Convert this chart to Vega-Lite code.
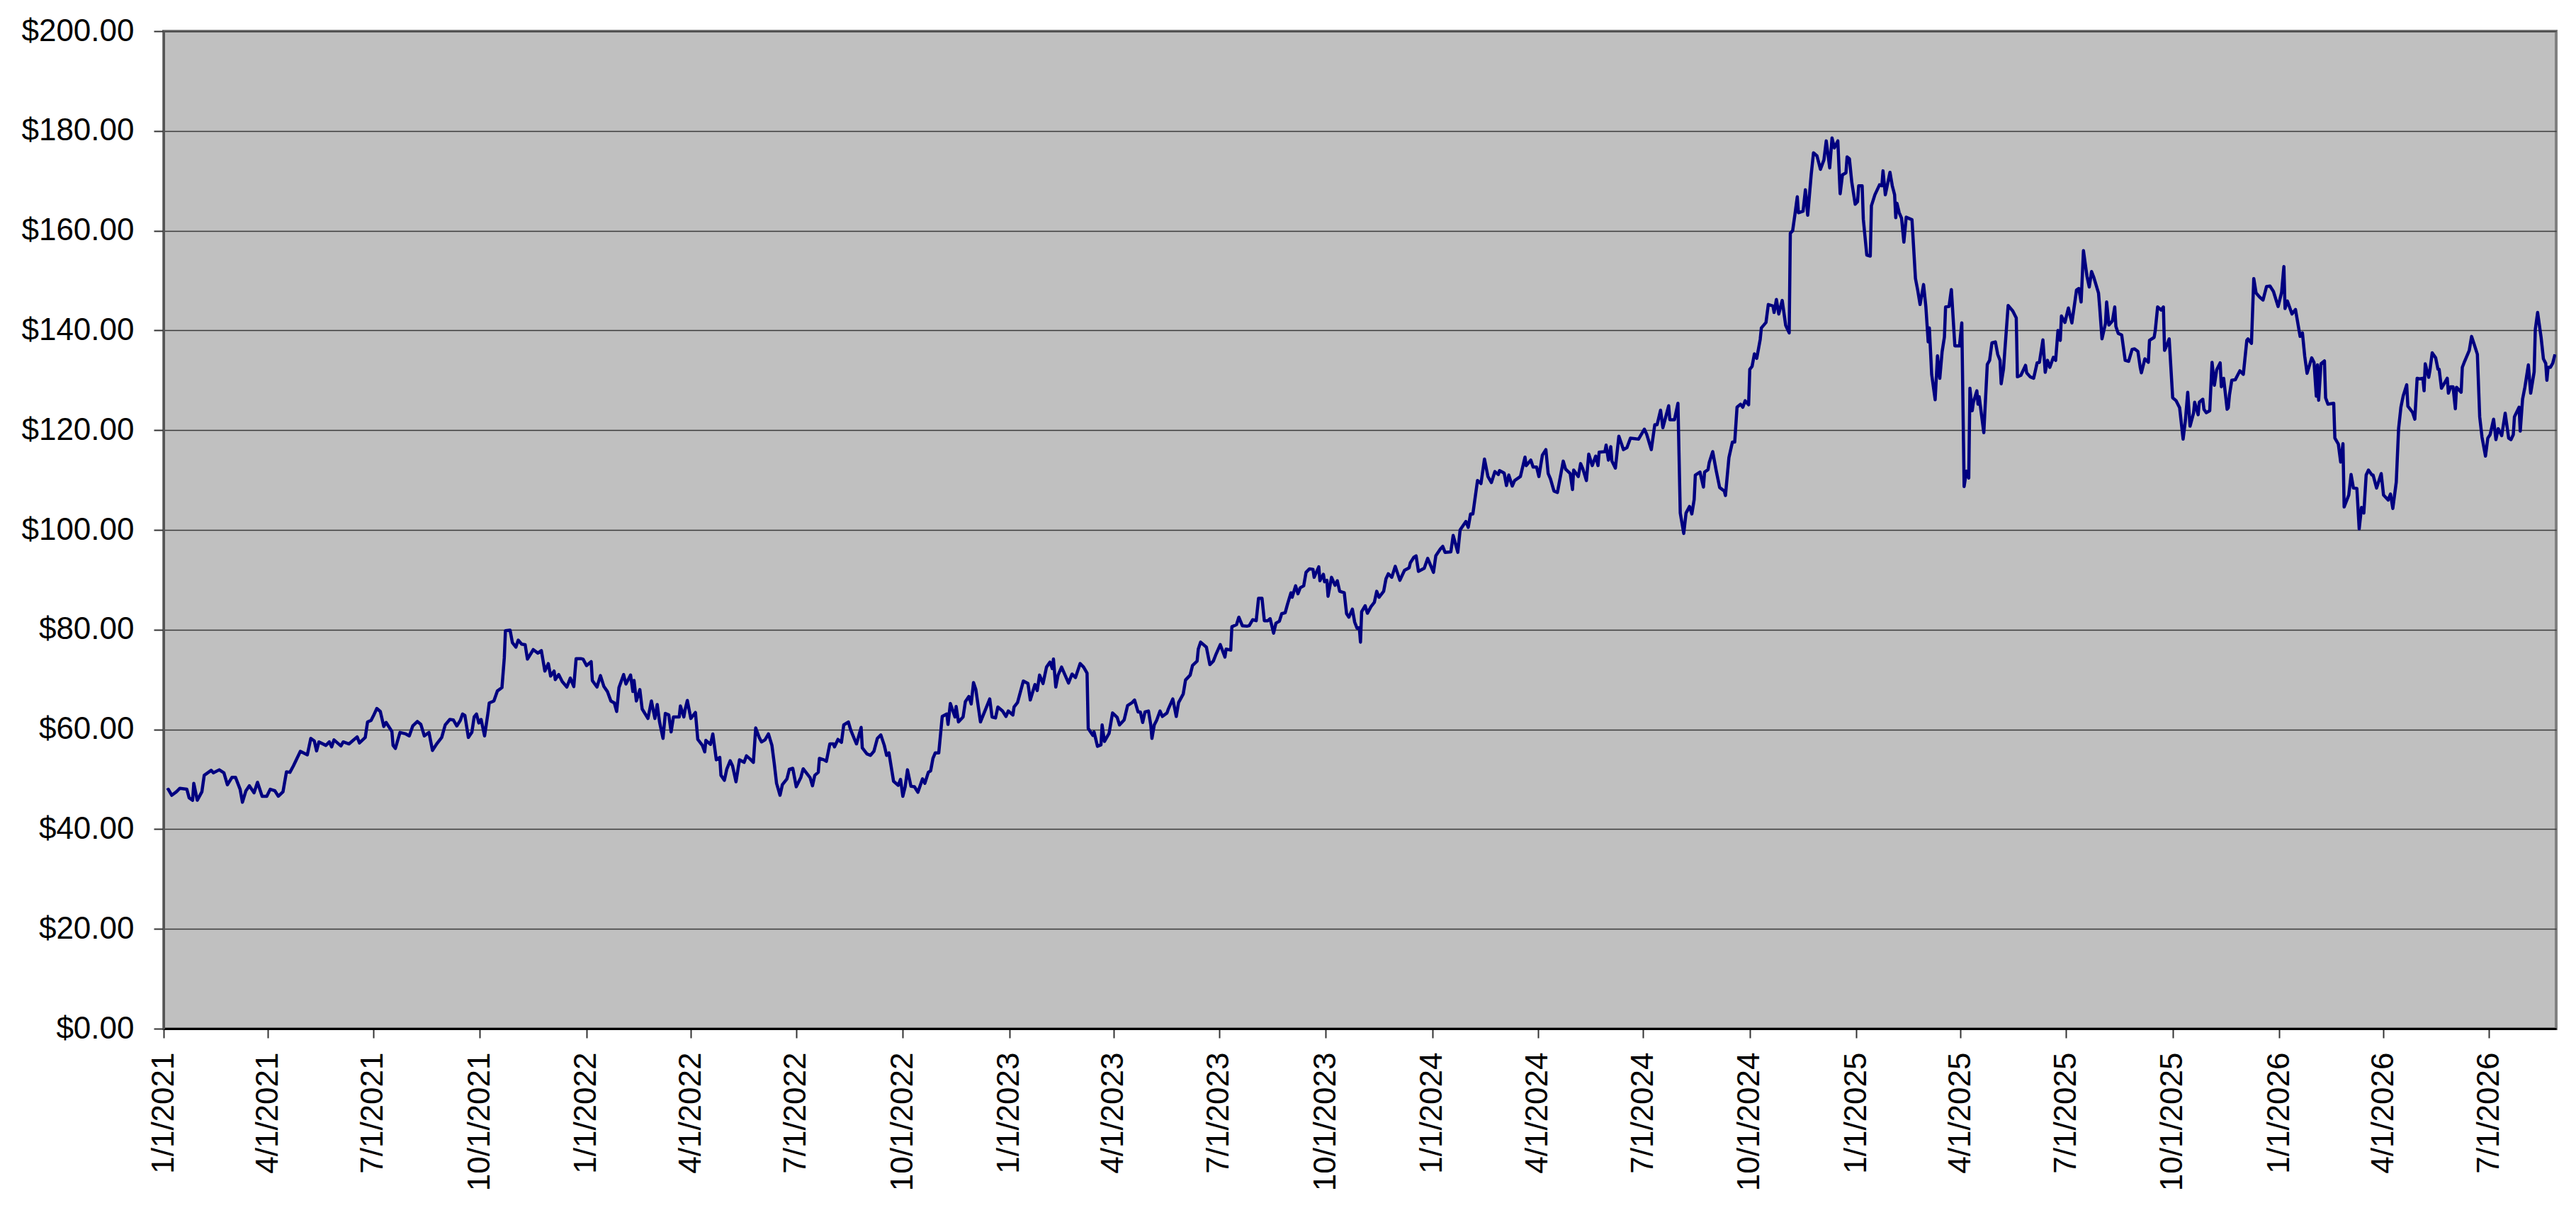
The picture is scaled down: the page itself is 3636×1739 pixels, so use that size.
{
  "$schema": "https://vega.github.io/schema/vega-lite/v6.json",
  "width": 3377,
  "height": 1408,
  "autosize": {"type": "none"},
  "padding": {"left": 231, "top": 44, "right": 28, "bottom": 287},
  "background": "white",
  "data": {
    "values": [
      {"date": "2021-01-04", "price": 47.8}, {"date": "2021-01-05", "price": 48.0}, {"date": "2021-01-08", "price": 46.8},
      {"date": "2021-01-12", "price": 47.5}, {"date": "2021-01-15", "price": 48.2}, {"date": "2021-01-21", "price": 48.0},
      {"date": "2021-01-23", "price": 46.3}, {"date": "2021-01-26", "price": 45.8}, {"date": "2021-01-27", "price": 49.2},
      {"date": "2021-01-30", "price": 45.8}, {"date": "2021-02-03", "price": 47.5}, {"date": "2021-02-05", "price": 50.8},
      {"date": "2021-02-11", "price": 51.8}, {"date": "2021-02-13", "price": 51.3}, {"date": "2021-02-18", "price": 51.9},
      {"date": "2021-02-22", "price": 51.3}, {"date": "2021-02-25", "price": 48.9}, {"date": "2021-03-01", "price": 50.4},
      {"date": "2021-03-04", "price": 50.4}, {"date": "2021-03-08", "price": 48.0}, {"date": "2021-03-10", "price": 45.4},
      {"date": "2021-03-13", "price": 47.7}, {"date": "2021-03-16", "price": 48.7}, {"date": "2021-03-20", "price": 47.3},
      {"date": "2021-03-23", "price": 49.4}, {"date": "2021-03-27", "price": 46.6}, {"date": "2021-03-31", "price": 46.6},
      {"date": "2021-04-03", "price": 48.0}, {"date": "2021-04-07", "price": 47.7}, {"date": "2021-04-10", "price": 46.6},
      {"date": "2021-04-14", "price": 47.5}, {"date": "2021-04-17", "price": 51.5}, {"date": "2021-04-20", "price": 51.4},
      {"date": "2021-04-23", "price": 52.7}, {"date": "2021-04-29", "price": 55.6}, {"date": "2021-05-05", "price": 54.9},
      {"date": "2021-05-08", "price": 58.2}, {"date": "2021-05-11", "price": 57.7}, {"date": "2021-05-13", "price": 55.7},
      {"date": "2021-05-15", "price": 57.5}, {"date": "2021-05-21", "price": 56.8}, {"date": "2021-05-24", "price": 57.5},
      {"date": "2021-05-26", "price": 56.5}, {"date": "2021-05-28", "price": 57.9}, {"date": "2021-06-03", "price": 56.7},
      {"date": "2021-06-05", "price": 57.5}, {"date": "2021-06-10", "price": 57.1}, {"date": "2021-06-13", "price": 57.7},
      {"date": "2021-06-17", "price": 58.5}, {"date": "2021-06-19", "price": 57.3}, {"date": "2021-06-24", "price": 58.4},
      {"date": "2021-06-26", "price": 61.5}, {"date": "2021-06-29", "price": 61.8}, {"date": "2021-07-01", "price": 62.7},
      {"date": "2021-07-04", "price": 64.2}, {"date": "2021-07-07", "price": 63.6}, {"date": "2021-07-10", "price": 60.6},
      {"date": "2021-07-12", "price": 61.4}, {"date": "2021-07-17", "price": 59.6}, {"date": "2021-07-18", "price": 56.8},
      {"date": "2021-07-20", "price": 56.2}, {"date": "2021-07-24", "price": 59.4}, {"date": "2021-07-29", "price": 59.1},
      {"date": "2021-08-01", "price": 58.7}, {"date": "2021-08-04", "price": 60.7}, {"date": "2021-08-08", "price": 61.6},
      {"date": "2021-08-11", "price": 61.0}, {"date": "2021-08-14", "price": 58.7}, {"date": "2021-08-18", "price": 59.4},
      {"date": "2021-08-21", "price": 55.8}, {"date": "2021-08-25", "price": 57.2}, {"date": "2021-08-29", "price": 58.4},
      {"date": "2021-09-01", "price": 60.9}, {"date": "2021-09-05", "price": 62.0}, {"date": "2021-09-08", "price": 61.9},
      {"date": "2021-09-11", "price": 60.7}, {"date": "2021-09-14", "price": 61.8}, {"date": "2021-09-16", "price": 63.1},
      {"date": "2021-09-18", "price": 62.8}, {"date": "2021-09-21", "price": 58.4}, {"date": "2021-09-24", "price": 59.4},
      {"date": "2021-09-26", "price": 62.5}, {"date": "2021-09-28", "price": 63.1}, {"date": "2021-09-30", "price": 61.3},
      {"date": "2021-10-02", "price": 62.0}, {"date": "2021-10-05", "price": 58.7}, {"date": "2021-10-08", "price": 63.4},
      {"date": "2021-10-09", "price": 65.3}, {"date": "2021-10-13", "price": 65.7}, {"date": "2021-10-16", "price": 67.7},
      {"date": "2021-10-20", "price": 68.4}, {"date": "2021-10-22", "price": 74.3}, {"date": "2021-10-23", "price": 79.8},
      {"date": "2021-10-27", "price": 79.9}, {"date": "2021-10-29", "price": 77.4}, {"date": "2021-11-01", "price": 76.5},
      {"date": "2021-11-03", "price": 77.9}, {"date": "2021-11-06", "price": 77.1}, {"date": "2021-11-09", "price": 77.0},
      {"date": "2021-11-11", "price": 74.1}, {"date": "2021-11-16", "price": 76.0}, {"date": "2021-11-20", "price": 75.3},
      {"date": "2021-11-23", "price": 75.8}, {"date": "2021-11-26", "price": 71.7}, {"date": "2021-11-29", "price": 73.2},
      {"date": "2021-12-01", "price": 70.7}, {"date": "2021-12-04", "price": 71.7}, {"date": "2021-12-05", "price": 70.0},
      {"date": "2021-12-08", "price": 71.0}, {"date": "2021-12-11", "price": 69.6}, {"date": "2021-12-15", "price": 68.5},
      {"date": "2021-12-18", "price": 70.3}, {"date": "2021-12-21", "price": 68.6}, {"date": "2021-12-23", "price": 74.2},
      {"date": "2021-12-27", "price": 74.2}, {"date": "2021-12-29", "price": 74.1}, {"date": "2022-01-01", "price": 72.8},
      {"date": "2022-01-05", "price": 73.6}, {"date": "2022-01-06", "price": 69.8}, {"date": "2022-01-10", "price": 68.5},
      {"date": "2022-01-13", "price": 70.8}, {"date": "2022-01-16", "price": 68.6}, {"date": "2022-01-19", "price": 67.6},
      {"date": "2022-01-22", "price": 65.7}, {"date": "2022-01-25", "price": 65.3}, {"date": "2022-01-27", "price": 63.6},
      {"date": "2022-01-29", "price": 68.4}, {"date": "2022-02-02", "price": 71.0}, {"date": "2022-02-04", "price": 69.1},
      {"date": "2022-02-08", "price": 70.9}, {"date": "2022-02-10", "price": 67.6}, {"date": "2022-02-11", "price": 69.8},
      {"date": "2022-02-13", "price": 65.7}, {"date": "2022-02-16", "price": 68.0}, {"date": "2022-02-18", "price": 64.1},
      {"date": "2022-02-23", "price": 62.2}, {"date": "2022-02-26", "price": 65.7}, {"date": "2022-03-01", "price": 62.2},
      {"date": "2022-03-03", "price": 65.0}, {"date": "2022-03-05", "price": 61.5}, {"date": "2022-03-08", "price": 58.2},
      {"date": "2022-03-10", "price": 63.2}, {"date": "2022-03-13", "price": 62.9}, {"date": "2022-03-15", "price": 59.5},
      {"date": "2022-03-17", "price": 62.5}, {"date": "2022-03-22", "price": 62.5}, {"date": "2022-03-23", "price": 64.7},
      {"date": "2022-03-26", "price": 62.5}, {"date": "2022-03-27", "price": 63.9}, {"date": "2022-03-29", "price": 65.8},
      {"date": "2022-04-01", "price": 62.2}, {"date": "2022-04-05", "price": 63.4}, {"date": "2022-04-07", "price": 58.0},
      {"date": "2022-04-11", "price": 56.8}, {"date": "2022-04-13", "price": 55.5}, {"date": "2022-04-14", "price": 57.8},
      {"date": "2022-04-18", "price": 57.0}, {"date": "2022-04-20", "price": 59.1}, {"date": "2022-04-23", "price": 53.9},
      {"date": "2022-04-26", "price": 54.4}, {"date": "2022-04-27", "price": 50.8}, {"date": "2022-04-30", "price": 49.8},
      {"date": "2022-05-02", "price": 52.0}, {"date": "2022-05-05", "price": 53.7}, {"date": "2022-05-07", "price": 52.7},
      {"date": "2022-05-10", "price": 49.5}, {"date": "2022-05-13", "price": 53.9}, {"date": "2022-05-17", "price": 53.4},
      {"date": "2022-05-19", "price": 54.7}, {"date": "2022-05-22", "price": 54.1}, {"date": "2022-05-25", "price": 53.4},
      {"date": "2022-05-27", "price": 60.3}, {"date": "2022-05-30", "price": 58.4}, {"date": "2022-06-01", "price": 57.5},
      {"date": "2022-06-04", "price": 57.9}, {"date": "2022-06-07", "price": 59.1}, {"date": "2022-06-10", "price": 56.8},
      {"date": "2022-06-12", "price": 53.2}, {"date": "2022-06-14", "price": 49.2}, {"date": "2022-06-17", "price": 46.8},
      {"date": "2022-06-19", "price": 48.9}, {"date": "2022-06-23", "price": 50.1}, {"date": "2022-06-25", "price": 52.0},
      {"date": "2022-06-28", "price": 52.2}, {"date": "2022-07-01", "price": 48.5}, {"date": "2022-07-05", "price": 50.4},
      {"date": "2022-07-07", "price": 52.1}, {"date": "2022-07-11", "price": 50.9}, {"date": "2022-07-13", "price": 50.3},
      {"date": "2022-07-15", "price": 48.7}, {"date": "2022-07-17", "price": 50.8}, {"date": "2022-07-20", "price": 51.4},
      {"date": "2022-07-21", "price": 54.2}, {"date": "2022-07-25", "price": 53.9}, {"date": "2022-07-27", "price": 53.6},
      {"date": "2022-07-30", "price": 57.1}, {"date": "2022-08-02", "price": 57.1}, {"date": "2022-08-03", "price": 56.5},
      {"date": "2022-08-06", "price": 58.0}, {"date": "2022-08-09", "price": 57.4}, {"date": "2022-08-11", "price": 60.9},
      {"date": "2022-08-15", "price": 61.5}, {"date": "2022-08-17", "price": 59.9}, {"date": "2022-08-20", "price": 58.2},
      {"date": "2022-08-22", "price": 57.1}, {"date": "2022-08-26", "price": 60.4}, {"date": "2022-08-27", "price": 56.3},
      {"date": "2022-08-31", "price": 55.1}, {"date": "2022-09-03", "price": 54.8}, {"date": "2022-09-06", "price": 55.6},
      {"date": "2022-09-09", "price": 58.2}, {"date": "2022-09-12", "price": 58.9}, {"date": "2022-09-15", "price": 56.8},
      {"date": "2022-09-17", "price": 54.8}, {"date": "2022-09-19", "price": 55.3}, {"date": "2022-09-23", "price": 49.6},
      {"date": "2022-09-27", "price": 48.8}, {"date": "2022-09-29", "price": 50.0}, {"date": "2022-10-01", "price": 46.6},
      {"date": "2022-10-03", "price": 48.5}, {"date": "2022-10-05", "price": 51.9}, {"date": "2022-10-08", "price": 48.6},
      {"date": "2022-10-11", "price": 48.5}, {"date": "2022-10-14", "price": 47.4}, {"date": "2022-10-18", "price": 50.1},
      {"date": "2022-10-20", "price": 49.2}, {"date": "2022-10-23", "price": 51.4}, {"date": "2022-10-25", "price": 51.7},
      {"date": "2022-10-27", "price": 54.2}, {"date": "2022-10-29", "price": 55.3}, {"date": "2022-11-01", "price": 55.3},
      {"date": "2022-11-04", "price": 62.6}, {"date": "2022-11-08", "price": 63.1}, {"date": "2022-11-09", "price": 61.0},
      {"date": "2022-11-11", "price": 65.2}, {"date": "2022-11-15", "price": 62.5}, {"date": "2022-11-16", "price": 64.6},
      {"date": "2022-11-18", "price": 61.5}, {"date": "2022-11-22", "price": 62.5}, {"date": "2022-11-24", "price": 65.6},
      {"date": "2022-11-27", "price": 66.6}, {"date": "2022-11-29", "price": 65.1}, {"date": "2022-12-01", "price": 69.4},
      {"date": "2022-12-03", "price": 68.0}, {"date": "2022-12-07", "price": 61.5}, {"date": "2022-12-11", "price": 63.8},
      {"date": "2022-12-15", "price": 66.1}, {"date": "2022-12-17", "price": 62.5}, {"date": "2022-12-20", "price": 62.3},
      {"date": "2022-12-22", "price": 64.5}, {"date": "2022-12-26", "price": 63.7}, {"date": "2022-12-29", "price": 62.6},
      {"date": "2022-12-31", "price": 63.7}, {"date": "2023-01-04", "price": 62.9}, {"date": "2023-01-05", "price": 64.5},
      {"date": "2023-01-08", "price": 65.4}, {"date": "2023-01-13", "price": 69.7}, {"date": "2023-01-17", "price": 69.2},
      {"date": "2023-01-19", "price": 65.9}, {"date": "2023-01-23", "price": 69.0}, {"date": "2023-01-25", "price": 67.8},
      {"date": "2023-01-27", "price": 70.9}, {"date": "2023-01-30", "price": 69.2}, {"date": "2023-02-02", "price": 72.5},
      {"date": "2023-02-05", "price": 73.5}, {"date": "2023-02-07", "price": 72.2}, {"date": "2023-02-08", "price": 74.1},
      {"date": "2023-02-10", "price": 68.5}, {"date": "2023-02-12", "price": 70.9}, {"date": "2023-02-15", "price": 72.5},
      {"date": "2023-02-21", "price": 69.3}, {"date": "2023-02-24", "price": 71.1}, {"date": "2023-02-27", "price": 70.4},
      {"date": "2023-03-03", "price": 73.2}, {"date": "2023-03-06", "price": 72.5}, {"date": "2023-03-09", "price": 71.3},
      {"date": "2023-03-10", "price": 60.2}, {"date": "2023-03-14", "price": 58.8}, {"date": "2023-03-15", "price": 59.5},
      {"date": "2023-03-18", "price": 56.6}, {"date": "2023-03-21", "price": 56.9}, {"date": "2023-03-22", "price": 60.9},
      {"date": "2023-03-24", "price": 57.6}, {"date": "2023-03-28", "price": 59.2}, {"date": "2023-03-31", "price": 63.3},
      {"date": "2023-04-04", "price": 62.4}, {"date": "2023-04-06", "price": 60.9}, {"date": "2023-04-10", "price": 61.9},
      {"date": "2023-04-13", "price": 64.8}, {"date": "2023-04-17", "price": 65.4}, {"date": "2023-04-19", "price": 65.9},
      {"date": "2023-04-22", "price": 63.5}, {"date": "2023-04-24", "price": 63.5}, {"date": "2023-04-26", "price": 61.4},
      {"date": "2023-04-28", "price": 63.5}, {"date": "2023-05-01", "price": 63.7}, {"date": "2023-05-03", "price": 60.9},
      {"date": "2023-05-04", "price": 58.2}, {"date": "2023-05-06", "price": 60.9}, {"date": "2023-05-08", "price": 61.8},
      {"date": "2023-05-11", "price": 63.7}, {"date": "2023-05-13", "price": 62.6}, {"date": "2023-05-17", "price": 63.3},
      {"date": "2023-05-18", "price": 64.0}, {"date": "2023-05-22", "price": 66.1}, {"date": "2023-05-25", "price": 62.6},
      {"date": "2023-05-27", "price": 65.4}, {"date": "2023-05-31", "price": 67.1}, {"date": "2023-06-02", "price": 69.9},
      {"date": "2023-06-06", "price": 70.9}, {"date": "2023-06-08", "price": 72.8}, {"date": "2023-06-12", "price": 73.7},
      {"date": "2023-06-13", "price": 76.1}, {"date": "2023-06-15", "price": 77.5}, {"date": "2023-06-20", "price": 76.5},
      {"date": "2023-06-23", "price": 73.0}, {"date": "2023-06-26", "price": 73.7}, {"date": "2023-06-28", "price": 74.9},
      {"date": "2023-07-02", "price": 77.0}, {"date": "2023-07-06", "price": 74.5}, {"date": "2023-07-07", "price": 76.1},
      {"date": "2023-07-11", "price": 75.9}, {"date": "2023-07-12", "price": 80.6}, {"date": "2023-07-16", "price": 81.0},
      {"date": "2023-07-18", "price": 82.5}, {"date": "2023-07-21", "price": 80.8}, {"date": "2023-07-25", "price": 80.7},
      {"date": "2023-07-27", "price": 80.8}, {"date": "2023-07-30", "price": 82.0}, {"date": "2023-08-02", "price": 81.8},
      {"date": "2023-08-04", "price": 86.3}, {"date": "2023-08-07", "price": 86.3}, {"date": "2023-08-09", "price": 81.8},
      {"date": "2023-08-12", "price": 81.8}, {"date": "2023-08-14", "price": 82.2}, {"date": "2023-08-17", "price": 79.3},
      {"date": "2023-08-19", "price": 81.3}, {"date": "2023-08-22", "price": 81.7}, {"date": "2023-08-24", "price": 83.2},
      {"date": "2023-08-27", "price": 83.4}, {"date": "2023-08-29", "price": 85.1}, {"date": "2023-09-01", "price": 87.4},
      {"date": "2023-09-02", "price": 86.5}, {"date": "2023-09-05", "price": 88.8}, {"date": "2023-09-07", "price": 87.2},
      {"date": "2023-09-09", "price": 88.4}, {"date": "2023-09-12", "price": 88.8}, {"date": "2023-09-14", "price": 91.5},
      {"date": "2023-09-17", "price": 92.2}, {"date": "2023-09-20", "price": 92.1}, {"date": "2023-09-21", "price": 90.5},
      {"date": "2023-09-25", "price": 92.6}, {"date": "2023-09-26", "price": 89.8}, {"date": "2023-09-29", "price": 91.1},
      {"date": "2023-09-30", "price": 89.6}, {"date": "2023-10-02", "price": 89.9}, {"date": "2023-10-03", "price": 86.7},
      {"date": "2023-10-06", "price": 90.5}, {"date": "2023-10-09", "price": 88.9}, {"date": "2023-10-11", "price": 89.8},
      {"date": "2023-10-13", "price": 87.7}, {"date": "2023-10-17", "price": 87.4}, {"date": "2023-10-19", "price": 83.2},
      {"date": "2023-10-21", "price": 82.5}, {"date": "2023-10-24", "price": 84.1}, {"date": "2023-10-26", "price": 81.5},
      {"date": "2023-10-28", "price": 80.3}, {"date": "2023-10-30", "price": 80.4}, {"date": "2023-10-31", "price": 77.5},
      {"date": "2023-11-01", "price": 83.6}, {"date": "2023-11-04", "price": 84.8}, {"date": "2023-11-06", "price": 83.3},
      {"date": "2023-11-09", "price": 84.6}, {"date": "2023-11-12", "price": 85.5}, {"date": "2023-11-14", "price": 87.7},
      {"date": "2023-11-16", "price": 86.5}, {"date": "2023-11-20", "price": 87.7}, {"date": "2023-11-22", "price": 90.2},
      {"date": "2023-11-24", "price": 91.2}, {"date": "2023-11-27", "price": 90.5}, {"date": "2023-11-30", "price": 92.7},
      {"date": "2023-12-04", "price": 89.9}, {"date": "2023-12-08", "price": 91.9}, {"date": "2023-12-12", "price": 92.4},
      {"date": "2023-12-13", "price": 93.4}, {"date": "2023-12-16", "price": 94.5}, {"date": "2023-12-18", "price": 94.8},
      {"date": "2023-12-20", "price": 91.7}, {"date": "2023-12-24", "price": 92.2}, {"date": "2023-12-25", "price": 92.3},
      {"date": "2023-12-28", "price": 94.3}, {"date": "2024-01-02", "price": 91.5}, {"date": "2024-01-04", "price": 94.8},
      {"date": "2024-01-08", "price": 96.2}, {"date": "2024-01-10", "price": 96.7}, {"date": "2024-01-12", "price": 95.5},
      {"date": "2024-01-17", "price": 95.6}, {"date": "2024-01-19", "price": 98.9}, {"date": "2024-01-23", "price": 95.5},
      {"date": "2024-01-25", "price": 100.0}, {"date": "2024-01-30", "price": 101.7}, {"date": "2024-02-01", "price": 100.5},
      {"date": "2024-02-03", "price": 103.2}, {"date": "2024-02-05", "price": 103.2}, {"date": "2024-02-09", "price": 109.9},
      {"date": "2024-02-12", "price": 109.3}, {"date": "2024-02-15", "price": 114.2}, {"date": "2024-02-18", "price": 110.7},
      {"date": "2024-02-21", "price": 109.5}, {"date": "2024-02-24", "price": 111.7}, {"date": "2024-02-27", "price": 111.1},
      {"date": "2024-02-28", "price": 111.9}, {"date": "2024-03-03", "price": 111.4}, {"date": "2024-03-05", "price": 108.9},
      {"date": "2024-03-07", "price": 111.0}, {"date": "2024-03-10", "price": 108.8}, {"date": "2024-03-12", "price": 109.9},
      {"date": "2024-03-17", "price": 110.7}, {"date": "2024-03-21", "price": 114.6}, {"date": "2024-03-22", "price": 112.9},
      {"date": "2024-03-26", "price": 114.0}, {"date": "2024-03-28", "price": 112.6}, {"date": "2024-03-31", "price": 112.6},
      {"date": "2024-04-02", "price": 110.7}, {"date": "2024-04-05", "price": 115.0}, {"date": "2024-04-08", "price": 116.1},
      {"date": "2024-04-10", "price": 111.3}, {"date": "2024-04-12", "price": 110.2}, {"date": "2024-04-15", "price": 107.8},
      {"date": "2024-04-18", "price": 107.5}, {"date": "2024-04-23", "price": 113.8}, {"date": "2024-04-25", "price": 112.2},
      {"date": "2024-04-29", "price": 111.3}, {"date": "2024-05-01", "price": 108.1}, {"date": "2024-05-02", "price": 112.0},
      {"date": "2024-05-06", "price": 110.7}, {"date": "2024-05-08", "price": 113.3}, {"date": "2024-05-10", "price": 112.2},
      {"date": "2024-05-13", "price": 109.9}, {"date": "2024-05-15", "price": 115.2}, {"date": "2024-05-18", "price": 112.9},
      {"date": "2024-05-21", "price": 114.8}, {"date": "2024-05-23", "price": 112.9}, {"date": "2024-05-24", "price": 115.6},
      {"date": "2024-05-29", "price": 115.7}, {"date": "2024-05-30", "price": 117.0}, {"date": "2024-06-01", "price": 114.0},
      {"date": "2024-06-03", "price": 116.7}, {"date": "2024-06-04", "price": 113.8}, {"date": "2024-06-07", "price": 112.4},
      {"date": "2024-06-10", "price": 118.8}, {"date": "2024-06-14", "price": 116.1}, {"date": "2024-06-17", "price": 116.5},
      {"date": "2024-06-20", "price": 118.4}, {"date": "2024-06-24", "price": 118.3}, {"date": "2024-06-27", "price": 118.2},
      {"date": "2024-07-02", "price": 120.2}, {"date": "2024-07-04", "price": 119.2}, {"date": "2024-07-08", "price": 116.1},
      {"date": "2024-07-11", "price": 121.1}, {"date": "2024-07-13", "price": 121.1}, {"date": "2024-07-16", "price": 124.0},
      {"date": "2024-07-18", "price": 120.5}, {"date": "2024-07-23", "price": 124.9}, {"date": "2024-07-24", "price": 122.1},
      {"date": "2024-07-28", "price": 122.1}, {"date": "2024-07-31", "price": 125.4}, {"date": "2024-08-02", "price": 103.4},
      {"date": "2024-08-05", "price": 99.3}, {"date": "2024-08-07", "price": 103.4}, {"date": "2024-08-10", "price": 104.7},
      {"date": "2024-08-12", "price": 103.2}, {"date": "2024-08-14", "price": 106.1}, {"date": "2024-08-15", "price": 111.0},
      {"date": "2024-08-19", "price": 111.6}, {"date": "2024-08-22", "price": 108.6}, {"date": "2024-08-23", "price": 111.6},
      {"date": "2024-08-26", "price": 112.1}, {"date": "2024-08-27", "price": 113.5}, {"date": "2024-08-30", "price": 115.7},
      {"date": "2024-09-02", "price": 111.9}, {"date": "2024-09-05", "price": 108.5}, {"date": "2024-09-09", "price": 107.8},
      {"date": "2024-09-10", "price": 106.9}, {"date": "2024-09-13", "price": 114.5}, {"date": "2024-09-16", "price": 117.6},
      {"date": "2024-09-18", "price": 117.6}, {"date": "2024-09-20", "price": 124.6}, {"date": "2024-09-23", "price": 125.2},
      {"date": "2024-09-25", "price": 124.6}, {"date": "2024-09-27", "price": 125.9}, {"date": "2024-09-30", "price": 125.1},
      {"date": "2024-10-01", "price": 132.2}, {"date": "2024-10-03", "price": 132.8}, {"date": "2024-10-05", "price": 135.3},
      {"date": "2024-10-07", "price": 134.4}, {"date": "2024-10-10", "price": 138.2}, {"date": "2024-10-11", "price": 140.5},
      {"date": "2024-10-15", "price": 141.6}, {"date": "2024-10-17", "price": 145.2}, {"date": "2024-10-21", "price": 144.9},
      {"date": "2024-10-22", "price": 143.6}, {"date": "2024-10-24", "price": 146.2}, {"date": "2024-10-26", "price": 143.3},
      {"date": "2024-10-29", "price": 146.0}, {"date": "2024-11-01", "price": 141.0}, {"date": "2024-11-04", "price": 139.5},
      {"date": "2024-11-05", "price": 159.5}, {"date": "2024-11-07", "price": 160.0}, {"date": "2024-11-09", "price": 163.3},
      {"date": "2024-11-11", "price": 166.8}, {"date": "2024-11-12", "price": 163.6}, {"date": "2024-11-16", "price": 163.9},
      {"date": "2024-11-18", "price": 168.2}, {"date": "2024-11-20", "price": 163.1}, {"date": "2024-11-23", "price": 171.2},
      {"date": "2024-11-25", "price": 175.6}, {"date": "2024-11-28", "price": 175.0}, {"date": "2024-12-01", "price": 172.3},
      {"date": "2024-12-04", "price": 174.2}, {"date": "2024-12-06", "price": 178.0}, {"date": "2024-12-09", "price": 172.6},
      {"date": "2024-12-11", "price": 178.6}, {"date": "2024-12-13", "price": 176.6}, {"date": "2024-12-16", "price": 178.0},
      {"date": "2024-12-18", "price": 167.4}, {"date": "2024-12-20", "price": 171.2}, {"date": "2024-12-23", "price": 171.6},
      {"date": "2024-12-24", "price": 174.8}, {"date": "2024-12-26", "price": 174.4}, {"date": "2024-12-28", "price": 169.8},
      {"date": "2024-12-31", "price": 165.3}, {"date": "2025-01-02", "price": 165.8}, {"date": "2025-01-03", "price": 169.0},
      {"date": "2025-01-06", "price": 169.0}, {"date": "2025-01-07", "price": 162.3}, {"date": "2025-01-10", "price": 155.1},
      {"date": "2025-01-13", "price": 154.9}, {"date": "2025-01-14", "price": 165.0}, {"date": "2025-01-17", "price": 167.2},
      {"date": "2025-01-21", "price": 169.2}, {"date": "2025-01-23", "price": 169.0}, {"date": "2025-01-24", "price": 172.0},
      {"date": "2025-01-26", "price": 167.2}, {"date": "2025-01-30", "price": 171.7}, {"date": "2025-02-01", "price": 169.0},
      {"date": "2025-02-03", "price": 167.2}, {"date": "2025-02-04", "price": 162.6}, {"date": "2025-02-05", "price": 165.5},
      {"date": "2025-02-07", "price": 163.6}, {"date": "2025-02-09", "price": 162.5}, {"date": "2025-02-11", "price": 157.7},
      {"date": "2025-02-13", "price": 162.7}, {"date": "2025-02-18", "price": 162.2}, {"date": "2025-02-21", "price": 150.4},
      {"date": "2025-02-23", "price": 148.0}, {"date": "2025-02-25", "price": 145.2}, {"date": "2025-02-28", "price": 149.2},
      {"date": "2025-03-02", "price": 144.7}, {"date": "2025-03-04", "price": 137.7}, {"date": "2025-03-05", "price": 140.5},
      {"date": "2025-03-07", "price": 131.2}, {"date": "2025-03-10", "price": 126.1}, {"date": "2025-03-12", "price": 134.9},
      {"date": "2025-03-14", "price": 130.4}, {"date": "2025-03-16", "price": 135.7}, {"date": "2025-03-18", "price": 138.7},
      {"date": "2025-03-19", "price": 144.7}, {"date": "2025-03-22", "price": 144.8}, {"date": "2025-03-24", "price": 148.2},
      {"date": "2025-03-27", "price": 136.9}, {"date": "2025-03-31", "price": 136.9}, {"date": "2025-04-02", "price": 141.5},
      {"date": "2025-04-04", "price": 108.7}, {"date": "2025-04-06", "price": 111.8}, {"date": "2025-04-08", "price": 110.4},
      {"date": "2025-04-09", "price": 128.4}, {"date": "2025-04-11", "price": 123.9}, {"date": "2025-04-12", "price": 125.6},
      {"date": "2025-04-15", "price": 127.9}, {"date": "2025-04-16", "price": 125.2}, {"date": "2025-04-17", "price": 126.7},
      {"date": "2025-04-21", "price": 119.5}, {"date": "2025-04-24", "price": 133.2}, {"date": "2025-04-26", "price": 134.0},
      {"date": "2025-04-28", "price": 137.5}, {"date": "2025-05-01", "price": 137.7}, {"date": "2025-05-03", "price": 135.2},
      {"date": "2025-05-05", "price": 134.0}, {"date": "2025-05-06", "price": 129.3}, {"date": "2025-05-08", "price": 132.3},
      {"date": "2025-05-12", "price": 145.0}, {"date": "2025-05-16", "price": 143.9}, {"date": "2025-05-19", "price": 142.5},
      {"date": "2025-05-20", "price": 130.7}, {"date": "2025-05-23", "price": 131.0}, {"date": "2025-05-27", "price": 133.0},
      {"date": "2025-05-28", "price": 131.5}, {"date": "2025-05-31", "price": 130.7}, {"date": "2025-06-03", "price": 130.4},
      {"date": "2025-06-06", "price": 133.5}, {"date": "2025-06-08", "price": 133.6}, {"date": "2025-06-11", "price": 138.1},
      {"date": "2025-06-13", "price": 131.6}, {"date": "2025-06-15", "price": 134.0}, {"date": "2025-06-17", "price": 132.6},
      {"date": "2025-06-20", "price": 134.6}, {"date": "2025-06-22", "price": 134.0}, {"date": "2025-06-24", "price": 140.0},
      {"date": "2025-06-26", "price": 138.0}, {"date": "2025-06-27", "price": 142.9}, {"date": "2025-06-30", "price": 141.6},
      {"date": "2025-07-03", "price": 144.5}, {"date": "2025-07-06", "price": 141.5}, {"date": "2025-07-09", "price": 146.4},
      {"date": "2025-07-10", "price": 148.1}, {"date": "2025-07-12", "price": 148.4}, {"date": "2025-07-14", "price": 145.7},
      {"date": "2025-07-16", "price": 156.0}, {"date": "2025-07-19", "price": 150.9}, {"date": "2025-07-21", "price": 148.7},
      {"date": "2025-07-23", "price": 151.8}, {"date": "2025-07-25", "price": 150.6}, {"date": "2025-07-29", "price": 147.5},
      {"date": "2025-07-30", "price": 144.7}, {"date": "2025-08-01", "price": 138.3}, {"date": "2025-08-04", "price": 141.4},
      {"date": "2025-08-05", "price": 145.7}, {"date": "2025-08-07", "price": 141.1}, {"date": "2025-08-10", "price": 141.9},
      {"date": "2025-08-12", "price": 144.7}, {"date": "2025-08-13", "price": 140.8}, {"date": "2025-08-15", "price": 139.4},
      {"date": "2025-08-18", "price": 139.1}, {"date": "2025-08-21", "price": 134.0}, {"date": "2025-08-24", "price": 133.8},
      {"date": "2025-08-27", "price": 136.2}, {"date": "2025-08-29", "price": 136.3}, {"date": "2025-09-01", "price": 135.8},
      {"date": "2025-09-03", "price": 132.6}, {"date": "2025-09-04", "price": 131.5}, {"date": "2025-09-07", "price": 134.3},
      {"date": "2025-09-10", "price": 133.6}, {"date": "2025-09-11", "price": 138.0}, {"date": "2025-09-15", "price": 138.6},
      {"date": "2025-09-16", "price": 140.0}, {"date": "2025-09-18", "price": 144.7}, {"date": "2025-09-21", "price": 144.1},
      {"date": "2025-09-23", "price": 144.7}, {"date": "2025-09-24", "price": 136.0}, {"date": "2025-09-25", "price": 136.5},
      {"date": "2025-09-28", "price": 138.3}, {"date": "2025-10-01", "price": 126.5}, {"date": "2025-10-04", "price": 125.9},
      {"date": "2025-10-07", "price": 124.5}, {"date": "2025-10-10", "price": 118.2}, {"date": "2025-10-12", "price": 122.0},
      {"date": "2025-10-14", "price": 127.6}, {"date": "2025-10-16", "price": 120.8}, {"date": "2025-10-19", "price": 123.4},
      {"date": "2025-10-20", "price": 125.6}, {"date": "2025-10-23", "price": 123.1}, {"date": "2025-10-24", "price": 125.6},
      {"date": "2025-10-27", "price": 126.2}, {"date": "2025-10-28", "price": 124.2}, {"date": "2025-10-30", "price": 123.5},
      {"date": "2025-11-02", "price": 123.9}, {"date": "2025-11-04", "price": 133.6}, {"date": "2025-11-06", "price": 129.0},
      {"date": "2025-11-08", "price": 132.1}, {"date": "2025-11-11", "price": 133.5}, {"date": "2025-11-12", "price": 128.7},
      {"date": "2025-11-14", "price": 130.4}, {"date": "2025-11-17", "price": 124.2}, {"date": "2025-11-18", "price": 124.5},
      {"date": "2025-11-19", "price": 127.0}, {"date": "2025-11-21", "price": 130.0}, {"date": "2025-11-24", "price": 130.1},
      {"date": "2025-11-26", "price": 131.0}, {"date": "2025-11-28", "price": 131.9}, {"date": "2025-12-01", "price": 131.2},
      {"date": "2025-12-04", "price": 138.0}, {"date": "2025-12-05", "price": 138.3}, {"date": "2025-12-08", "price": 137.4},
      {"date": "2025-12-10", "price": 150.4}, {"date": "2025-12-12", "price": 147.5}, {"date": "2025-12-15", "price": 146.7},
      {"date": "2025-12-18", "price": 146.1}, {"date": "2025-12-21", "price": 148.8}, {"date": "2025-12-24", "price": 148.9},
      {"date": "2025-12-27", "price": 147.8}, {"date": "2025-12-31", "price": 144.8}, {"date": "2026-01-03", "price": 147.6},
      {"date": "2026-01-05", "price": 152.8}, {"date": "2026-01-06", "price": 144.4}, {"date": "2026-01-08", "price": 145.9},
      {"date": "2026-01-12", "price": 143.3}, {"date": "2026-01-15", "price": 144.2}, {"date": "2026-01-19", "price": 138.8},
      {"date": "2026-01-21", "price": 139.5}, {"date": "2026-01-23", "price": 134.8}, {"date": "2026-01-25", "price": 131.4},
      {"date": "2026-01-29", "price": 134.5}, {"date": "2026-01-31", "price": 133.6}, {"date": "2026-02-02", "price": 126.8},
      {"date": "2026-02-03", "price": 133.1}, {"date": "2026-02-04", "price": 126.0}, {"date": "2026-02-06", "price": 133.3},
      {"date": "2026-02-09", "price": 133.9}, {"date": "2026-02-10", "price": 126.5}, {"date": "2026-02-12", "price": 125.2},
      {"date": "2026-02-17", "price": 125.4}, {"date": "2026-02-18", "price": 118.4}, {"date": "2026-02-21", "price": 117.2},
      {"date": "2026-02-23", "price": 113.6}, {"date": "2026-02-25", "price": 117.3}, {"date": "2026-02-26", "price": 104.6},
      {"date": "2026-03-02", "price": 107.0}, {"date": "2026-03-04", "price": 111.1}, {"date": "2026-03-06", "price": 108.4},
      {"date": "2026-03-09", "price": 108.3}, {"date": "2026-03-11", "price": 100.2}, {"date": "2026-03-13", "price": 104.5},
      {"date": "2026-03-15", "price": 103.4}, {"date": "2026-03-17", "price": 111.0}, {"date": "2026-03-19", "price": 112.0},
      {"date": "2026-03-22", "price": 111.0}, {"date": "2026-03-23", "price": 111.0}, {"date": "2026-03-26", "price": 108.4},
      {"date": "2026-03-30", "price": 111.3}, {"date": "2026-04-01", "price": 107.0}, {"date": "2026-04-05", "price": 106.0},
      {"date": "2026-04-07", "price": 107.2}, {"date": "2026-04-09", "price": 104.3}, {"date": "2026-04-12", "price": 109.6},
      {"date": "2026-04-14", "price": 120.3}, {"date": "2026-04-16", "price": 124.6}, {"date": "2026-04-18", "price": 126.9},
      {"date": "2026-04-21", "price": 129.1}, {"date": "2026-04-22", "price": 124.8}, {"date": "2026-04-26", "price": 123.6},
      {"date": "2026-04-28", "price": 122.2}, {"date": "2026-04-30", "price": 130.4}, {"date": "2026-05-02", "price": 130.3},
      {"date": "2026-05-05", "price": 130.4}, {"date": "2026-05-06", "price": 127.9}, {"date": "2026-05-07", "price": 133.3},
      {"date": "2026-05-10", "price": 130.6}, {"date": "2026-05-11", "price": 131.9}, {"date": "2026-05-13", "price": 135.5},
      {"date": "2026-05-16", "price": 134.5}, {"date": "2026-05-18", "price": 132.2}, {"date": "2026-05-19", "price": 132.2},
      {"date": "2026-05-21", "price": 128.4}, {"date": "2026-05-26", "price": 130.4}, {"date": "2026-05-27", "price": 127.4},
      {"date": "2026-05-29", "price": 128.7}, {"date": "2026-05-31", "price": 128.7}, {"date": "2026-06-02", "price": 124.3},
      {"date": "2026-06-03", "price": 128.6}, {"date": "2026-06-07", "price": 127.6}, {"date": "2026-06-08", "price": 132.6},
      {"date": "2026-06-10", "price": 133.8}, {"date": "2026-06-14", "price": 136.0}, {"date": "2026-06-16", "price": 138.8},
      {"date": "2026-06-18", "price": 137.4}, {"date": "2026-06-21", "price": 135.2}, {"date": "2026-06-23", "price": 122.7},
      {"date": "2026-06-25", "price": 118.6}, {"date": "2026-06-28", "price": 114.8}, {"date": "2026-06-30", "price": 118.4},
      {"date": "2026-07-02", "price": 119.1}, {"date": "2026-07-05", "price": 122.2}, {"date": "2026-07-07", "price": 118.1},
      {"date": "2026-07-09", "price": 120.3}, {"date": "2026-07-12", "price": 118.9}, {"date": "2026-07-15", "price": 123.4},
      {"date": "2026-07-18", "price": 118.4}, {"date": "2026-07-20", "price": 118.1}, {"date": "2026-07-22", "price": 119.1},
      {"date": "2026-07-23", "price": 122.7}, {"date": "2026-07-27", "price": 124.6}, {"date": "2026-07-28", "price": 119.8},
      {"date": "2026-07-30", "price": 126.2}, {"date": "2026-08-01", "price": 128.6}, {"date": "2026-08-04", "price": 133.1},
      {"date": "2026-08-06", "price": 127.4}, {"date": "2026-08-09", "price": 131.7}, {"date": "2026-08-10", "price": 140.2},
      {"date": "2026-08-12", "price": 143.6}, {"date": "2026-08-15", "price": 138.6}, {"date": "2026-08-17", "price": 134.3},
      {"date": "2026-08-19", "price": 133.4}, {"date": "2026-08-20", "price": 130.0}, {"date": "2026-08-21", "price": 132.6},
      {"date": "2026-08-23", "price": 132.6}, {"date": "2026-08-25", "price": 133.4}, {"date": "2026-08-27", "price": 135.2}
    ]
  },
  "mark": {"type": "line", "color": "#000080", "strokeWidth": 4.5, "strokeJoin": "round", "clip": true},
  "encoding": {
    "x": {
      "field": "date",
      "type": "temporal",
      "scale": {
        "type": "utc",
        "domain": [
          {"year": 2021, "month": 1, "date": 1, "utc": true},
          {"year": 2026, "month": 8, "date": 28, "utc": true}
        ]
      },
      "axis": {
        "title": null,
        "grid": false,
        "format": "%-m/%-d/%Y",
        "labelAngle": -90,
        "labelFont": "Liberation Sans",
        "labelFontSize": 44,
        "labelColor": "black",
        "labelPadding": 20,
        "labelOverlap": false,
        "labelFlush": false,
        "labelLimit": 500,
        "tickSize": 13,
        "tickColor": "#333333",
        "tickWidth": 2,
        "domainColor": "black",
        "domainWidth": 3,
        "values": [
          {"year": 2021, "month": 1, "date": 1, "utc": true}, {"year": 2021, "month": 4, "date": 1, "utc": true},
          {"year": 2021, "month": 7, "date": 1, "utc": true}, {"year": 2021, "month": 10, "date": 1, "utc": true},
          {"year": 2022, "month": 1, "date": 1, "utc": true}, {"year": 2022, "month": 4, "date": 1, "utc": true},
          {"year": 2022, "month": 7, "date": 1, "utc": true}, {"year": 2022, "month": 10, "date": 1, "utc": true},
          {"year": 2023, "month": 1, "date": 1, "utc": true}, {"year": 2023, "month": 4, "date": 1, "utc": true},
          {"year": 2023, "month": 7, "date": 1, "utc": true}, {"year": 2023, "month": 10, "date": 1, "utc": true},
          {"year": 2024, "month": 1, "date": 1, "utc": true}, {"year": 2024, "month": 4, "date": 1, "utc": true},
          {"year": 2024, "month": 7, "date": 1, "utc": true}, {"year": 2024, "month": 10, "date": 1, "utc": true},
          {"year": 2025, "month": 1, "date": 1, "utc": true}, {"year": 2025, "month": 4, "date": 1, "utc": true},
          {"year": 2025, "month": 7, "date": 1, "utc": true}, {"year": 2025, "month": 10, "date": 1, "utc": true},
          {"year": 2026, "month": 1, "date": 1, "utc": true}, {"year": 2026, "month": 4, "date": 1, "utc": true},
          {"year": 2026, "month": 7, "date": 1, "utc": true}
        ]
      }
    },
    "y": {
      "field": "price",
      "type": "quantitative",
      "scale": {"domain": [0, 200], "nice": false, "zero": true},
      "axis": {
        "title": null,
        "values": [0, 20, 40, 60, 80, 100, 120, 140, 160, 180, 200],
        "format": "$,.2f",
        "labelFont": "Liberation Sans",
        "labelFontSize": 44,
        "labelColor": "black",
        "labelPadding": 28,
        "tickSize": 14,
        "tickColor": "#333333",
        "tickWidth": 2,
        "domainColor": "#555555",
        "domainWidth": 3,
        "grid": true,
        "gridColor": "#3a3a3a",
        "gridWidth": 1.5
      }
    }
  },
  "config": {
    "view": {"fill": "#C0C0C0", "stroke": "#808080", "strokeWidth": 4}
  }
}
